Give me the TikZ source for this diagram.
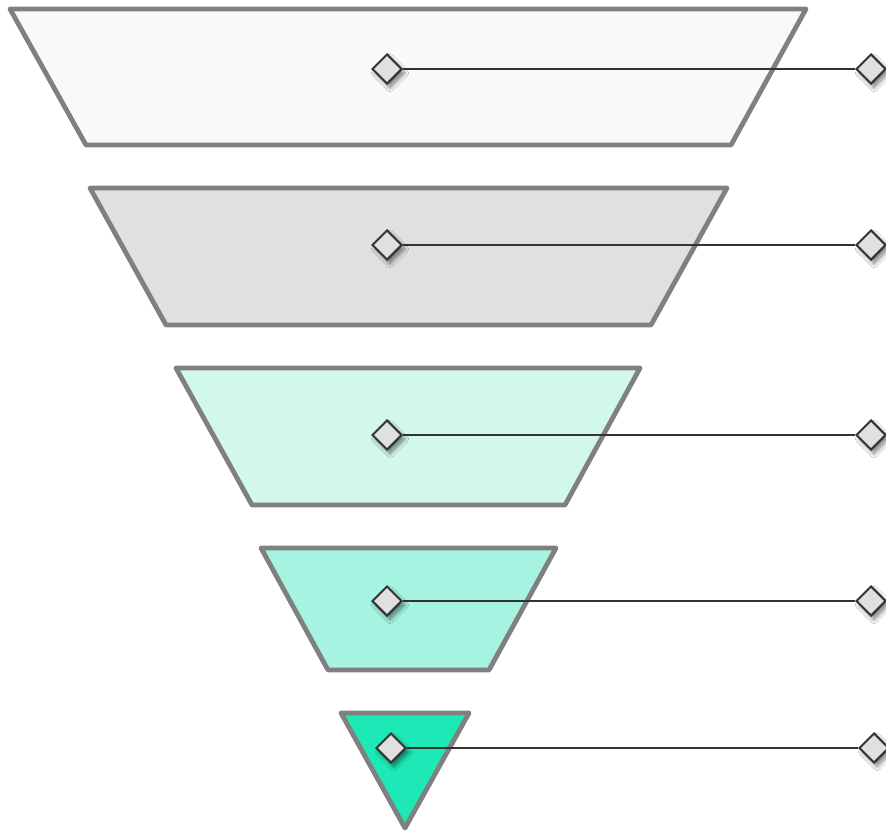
\documentclass[tikz,border=0pt]{standalone}
\usetikzlibrary{shapes.geometric,shadows.blur}
\definecolor{edgegray}{HTML}{808080}
\definecolor{darkline}{HTML}{333333}
\definecolor{fillA}{HTML}{F9F9F9}
\definecolor{fillB}{HTML}{E0E0E0}
\definecolor{fillC}{HTML}{D2F8EC}
\definecolor{fillD}{HTML}{A5F3E0}
\definecolor{fillE}{HTML}{1DE9B6}
\tikzset{
  layer/.style={draw=edgegray, line width=4.8pt, line join=round},
  marker/.style={diamond, draw=darkline, fill=fillB, line width=2pt, inner sep=0pt,
    minimum width=30pt, minimum height=30pt,
    blur shadow={shadow xshift=3pt, shadow yshift=-4pt, shadow blur steps=8, shadow blur radius=4pt, shadow opacity=50}},
  link/.style={draw=darkline, line width=1.5pt}
}
\begin{document}
\begin{tikzpicture}[x=1pt,y=-1pt]
\useasboundingbox (0,0) rectangle (886,832);
\fill[white] (0,0) rectangle (886,832);
% layers
\path[layer, fill=fillA] (10,9) -- (806,9) -- (731,145) -- (86,145) -- cycle;
\path[layer, fill=fillB] (90,188) -- (727,188) -- (651,325) -- (166,325) -- cycle;
\path[layer, fill=fillC] (176,368) -- (640,368) -- (565,505) -- (252,505) -- cycle;
\path[layer, fill=fillD] (261,548) -- (556,548) -- (489,670) -- (328,670) -- cycle;
\path[layer, fill=fillE] (341,713) -- (469,713) -- (405,828) -- cycle;
% markers
\node[marker] (l1) at (387,69) {};
\node[marker] (r1) at (871,69) {};
\node[marker] (l2) at (387,245) {};
\node[marker] (r2) at (871,245) {};
\node[marker] (l3) at (387,435) {};
\node[marker] (r3) at (871,435) {};
\node[marker] (l4) at (387,601) {};
\node[marker] (r4) at (871,601) {};
\node[marker] (l5) at (391,748) {};
\node[marker] (r5) at (874,748) {};
% links
\draw[link] (l1.east) -- (r1.west);
\draw[link] (l2.east) -- (r2.west);
\draw[link] (l3.east) -- (r3.west);
\draw[link] (l4.east) -- (r4.west);
\draw[link] (l5.east) -- (r5.west);
\end{tikzpicture}
\end{document}
